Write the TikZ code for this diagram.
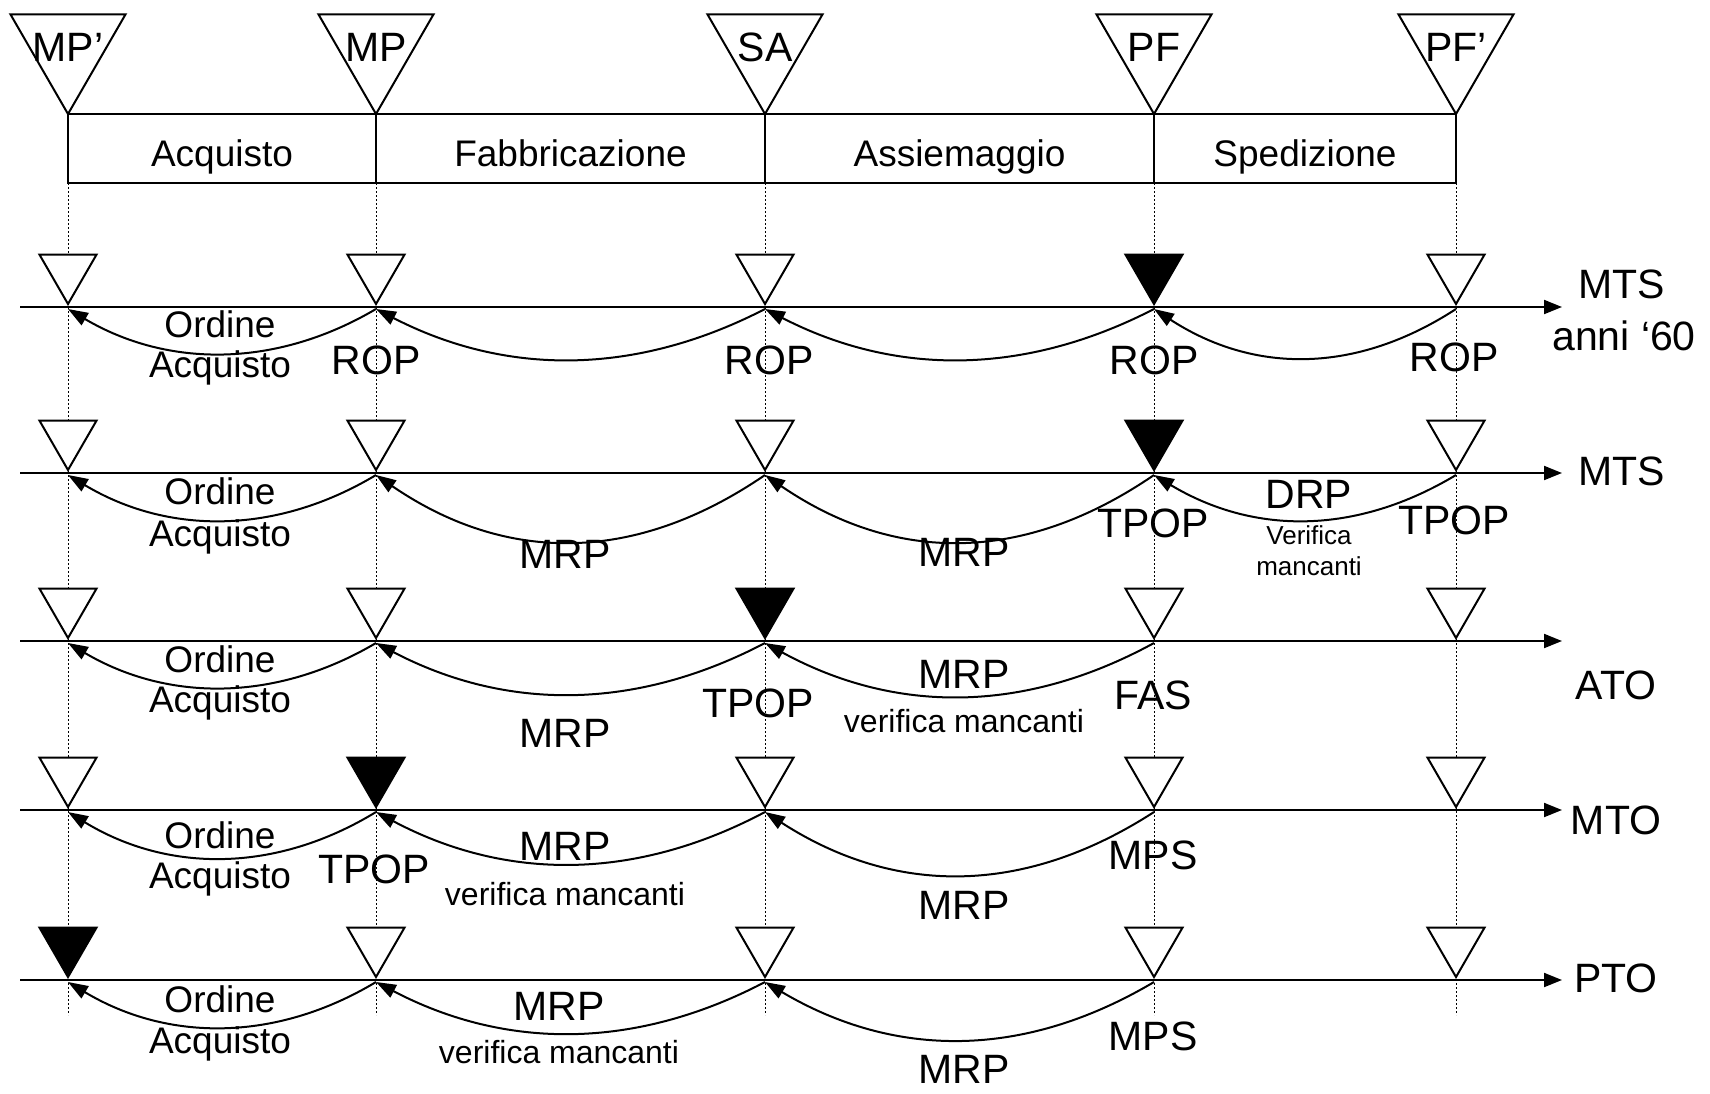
\documentclass[tikz,border=0pt]{standalone}
\usepackage{fontspec}
\setmainfont{Liberation Sans}
\usetikzlibrary{arrows.meta,shapes.geometric}

\begin{document}
\begin{tikzpicture}[x=1pt, y=-1pt,
        big/.style={font=\fontsize{41}{45}\selectfont, inner sep=0pt},
        mid/.style={font=\fontsize{37}{41}\selectfont, inner sep=0pt},
        note/.style={font=\fontsize{32}{36}\selectfont, inner sep=0pt},
        fine/.style={font=\fontsize{26}{30}\selectfont, inner sep=0pt},
        stock/.style={draw, line width=2pt, fill=white, regular polygon, regular polygon sides=3,
            shape border rotate=180, minimum size=66pt, inner sep=0pt, outer sep=0pt, anchor=corner 1},
        bigstock/.style={stock, minimum size=133pt},
        phase/.style={draw, line width=2pt, minimum height=69pt, inner sep=0pt, outer sep=0pt,
            text height=35pt, text depth=0pt, anchor=north west, font=\fontsize{37}{41}\selectfont},
        guide/.style={line width=1pt, dash pattern=on 2pt off 2pt},
        axis/.style={line width=2pt, -{Triangle[length=18pt,width=14pt]}},
        flow/.style={line width=2pt, -{Triangle[length=20pt,width=14pt]}}
    ]
    \useasboundingbox (0,0) rectangle (1710,1093);

    % Vertical guides
    \foreach \x in {68,376,765,1154,1456} \draw[guide] (\x,183) -- (\x,1015);

    % Phases
    \node[phase, minimum width=308pt] (acq) at (68,114) {Acquisto};
    \node[phase, minimum width=389pt] (fab) at (acq.north east) {Fabbricazione};
    \node[phase, minimum width=389pt] (ass) at (fab.north east) {Assiemaggio};
    \node[phase, minimum width=302pt] (sped) at (ass.north east) {Spedizione};

    % Stock points
    \foreach \c/\x/\t in {1/68/MP’, 2/376/MP, 3/765/SA, 4/1154/PF, 5/1456/PF’} {
        \node[bigstock] (t\c) at (\x,114) {};
        \node[big] (tl\c) at (t\c.center) {\t};
    }

    % Time lines (filled triangle = decoupling point)
    \foreach \r/\y/\f in {1/307/4, 2/473/4, 3/641/3, 4/810/2, 5/980/1} {
        \draw[axis] (20,\y) -- (1562,\y);
        \foreach \c/\x in {1/68, 2/376, 3/765, 4/1154, 5/1456} {
            \ifnum\c=\f \def\tfill{black}\else\def\tfill{white}\fi
            \node[stock, fill=\tfill] (s\r\c) at (\x,\y-3) {};
            \coordinate (p\r\c) at (\x,\y+2);
        }
    }

    % MTS anni '60
    \draw[flow] (p12) .. controls +(-100,59) and +(100,59) .. (p11);
    \draw[flow] (p13) .. controls +(-130,67) and +(130,67) .. (p12);
    \draw[flow] (p14) .. controls +(-130,67) and +(130,67) .. (p13);
    \draw[flow] (p15) .. controls +(-100,65) and +(100,65) .. (p14);
    \node[mid] (ord1) at (220,324) {Ordine};
    \node[mid] (acq1) at (220,368) {Acquisto};
    \node[big] (rop12) at (376,360) {ROP};
    \node[big] (rop13) at (769,360) {ROP};
    \node[big] (rop14) at (1154,360) {ROP};
    \node[big] (rop15) at (1454,357) {ROP};
    \node[big] (mts1) at (1622,284) {MTS};
    \node[big] (anni) at (1624,336) {anni ‘60};

    % MTS
    \draw[flow] (p22) .. controls +(-100,60) and +(100,60) .. (p21);
    \draw[flow] (p23) .. controls +(-130,89) and +(130,89) .. (p22);
    \draw[flow] (p24) .. controls +(-130,89) and +(130,89) .. (p23);
    \draw[flow] (p25) .. controls +(-100,60) and +(100,60) .. (p24);
    \node[mid] (ord2) at (220,491) {Ordine};
    \node[mid] (acq2) at (220,537) {Acquisto};
    \node[big] (mrp23) at (565,554) {MRP};
    \node[big] (mrp24) at (964,552) {MRP};
    \node[big] (tpop24) at (1153,523) {TPOP};
    \node[big] (tpop25) at (1454,520) {TPOP};
    \node[big] (drp) at (1309,494) {DRP};
    \node[fine] (ver2a) at (1309,535) {Verifica};
    \node[fine] (ver2b) at (1309,566) {mancanti};
    \node[big] (mts2) at (1622,471) {MTS};

    % ATO
    \draw[flow] (p32) .. controls +(-100,59) and +(100,59) .. (p31);
    \draw[flow] (p33) .. controls +(-130,68) and +(130,68) .. (p32);
    \draw[flow] (p34) .. controls +(-130,71) and +(130,71) .. (p33);
    \node[mid] (ord3) at (220,659) {Ordine};
    \node[mid] (acq3) at (220,703) {Acquisto};
    \node[big] (mrp33) at (565,733) {MRP};
    \node[big] (tpop33) at (758,703) {TPOP};
    \node[big] (mrp34) at (964,674) {MRP};
    \node[note] (ver34) at (964,721) {verifica mancanti};
    \node[big] (fas) at (1153,695) {FAS};
    \node[big] (ato) at (1616,685) {ATO};

    % MTO
    \draw[flow] (p42) .. controls +(-100,61) and +(100,61) .. (p41);
    \draw[flow] (p43) .. controls +(-130,69) and +(130,69) .. (p42);
    \draw[flow] (p44) .. controls +(-130,84) and +(130,84) .. (p43);
    \node[mid] (ord4) at (220,835) {Ordine};
    \node[mid] (acq4) at (220,879) {Acquisto};
    \node[big] (tpop42) at (374,869) {TPOP};
    \node[big] (mrp43) at (565,846) {MRP};
    \node[note] (ver43) at (565,894) {verifica mancanti};
    \node[big] (mrp44) at (964,905) {MRP};
    \node[big] (mps4) at (1153,855) {MPS};
    \node[big] (mto) at (1616,820) {MTO};

    % PTO
    \draw[flow] (p52) .. controls +(-100,60) and +(100,60) .. (p51);
    \draw[flow] (p53) .. controls +(-130,68) and +(130,68) .. (p52);
    \draw[flow] (p54) .. controls +(-130,77) and +(130,77) .. (p53);
    \node[mid] (ord5) at (220,999) {Ordine};
    \node[mid] (acq5) at (220,1044) {Acquisto};
    \node[big] (mrp53) at (559,1006) {MRP};
    \node[note] (ver53) at (559,1052) {verifica mancanti};
    \node[big] (mrp54) at (964,1069) {MRP};
    \node[big] (mps5) at (1153,1036) {MPS};
    \node[big] (pto) at (1616,978) {PTO};

\end{tikzpicture}
\end{document}
